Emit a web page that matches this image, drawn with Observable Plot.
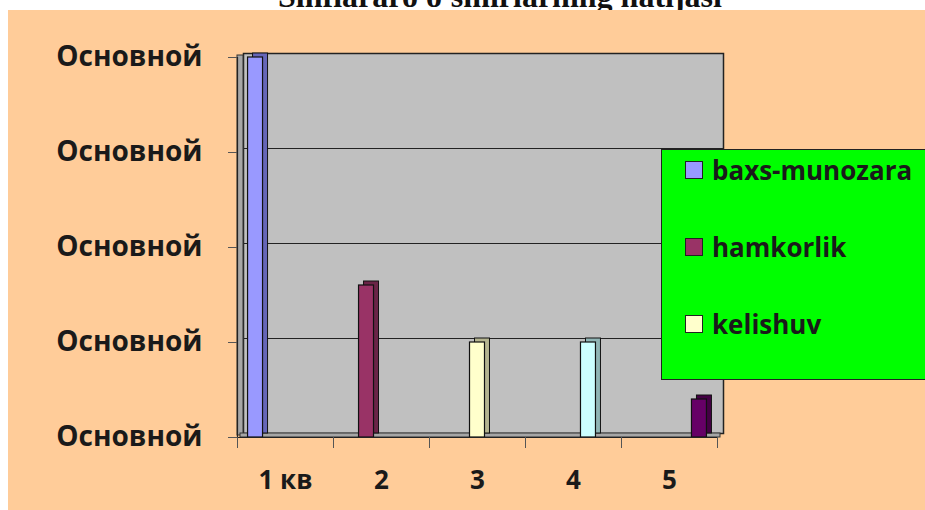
<!DOCTYPE html>
<html>
<head>
<meta charset="utf-8">
<script src="https://cdn.jsdelivr.net/npm/d3@7"></script>
<script src="https://cdn.jsdelivr.net/npm/@observablehq/plot@0.6"></script>
<style>
  html, body { margin: 0; padding: 0; background: #fff; width: 925px; height: 510px; overflow: hidden; position: relative; }
  #title { position: absolute; left: 0; top: 0; width: 925px; height: 10px; overflow: hidden; background: #fff; }
  #title span { position: absolute; left: 0; width: 1000px; text-align: center; top: -20px; font: bold 32px/32px "Liberation Serif", "Times New Roman", serif; color: #111; white-space: nowrap; }
  #chart { position: absolute; left: 8px; top: 10px; width: 917px; height: 500px; background: #FFCC99; }
  #chart svg text { font-weight: 700; }
  #legend { position: absolute; left: 661px; top: 149px; width: 300px; height: 229px; background: #00FF00; border: 1px solid #222; font: bold 26px "Open Sans", sans-serif; color: #1a1a1a; }
  .item { position: absolute; left: 23px; height: 20px; display: flex; align-items: center; white-space: nowrap; }
  .sw { width: 16px; height: 16px; border: 1.5px solid #222; margin-right: 9px; flex: none; }
</style>
</head>
<body>
<div id="title"><span>Sinflararo o'smirlarning natijasi</span></div>
<div id="chart"></div>
<div id="legend"></div>
<script>
// ---- data ----
const categories = ["1 кв", "2", "3", "4", "5"];
const series = ["baxs-munozara", "hamkorlik", "kelishuv", "Ряд 4", "Ряд 5"];
const values = [4, 1.6, 1.0, 1.0, 0.4];
const colors = ["#9999FF", "#993366", "#FFFFCC", "#CCFFFF", "#660066"];
const sideColors = ["#6666B8", "#6A2447", "#B5B590", "#90B5B5", "#440044"];
const yTicks = [0, 1, 2, 3, 4];
const yTickLabel = "Основной";
const legendShown = 3;

// ---- layout helpers ----
const groupPad = 0.11;
const barW = (1 - 2 * groupPad) / series.length;
const depthX = 6, depthY = -4;

const bars = series.map((name, s) => ({
  name, cat: s, value: values[s], fill: colors[s], side: sideColors[s],
  x1: s + groupPad + s * barW, x2: s + groupPad + (s + 1) * barW
}));
const catCenters = categories.map((c, i) => i + 0.5);
const catBounds = d3.range(categories.length + 1);

const chart = Plot.plot({
  width: 917,
  height: 500,
  marginLeft: 229,
  marginRight: 208,
  marginTop: 47,
  marginBottom: 73,
  style: { background: "transparent", fontFamily: "'Open Sans', sans-serif", fontSize: "26px", color: "#1a1a1a" },
  x: { type: "linear", domain: [0, categories.length], label: null },
  y: { domain: [0, 4], label: null },
  color: { type: "identity" },
  marks: [
    // back wall
    Plot.frame({ fill: "#C0C0C0", stroke: "#222", strokeWidth: 1.5, dx: depthX, dy: depthY }),
    // gridlines on back wall
    Plot.ruleY(yTicks.slice(1), { dx: depthX, dy: depthY, stroke: "#222", strokeWidth: 1.2 }),
    // left side wall
    Plot.rect([0], { x1: 0, x2: 0, y1: 0, y2: 4, insetRight: -depthX, dy: depthY / 2, fill: "#A6A6A6", stroke: "#333", strokeWidth: 1 }),
    // floor
    Plot.rect([0], { x1: 0, x2: categories.length, y1: 0, y2: 0, insetTop: depthY, dx: depthX / 2, fill: "#A6A6A6", stroke: "#333", strokeWidth: 1 }),
    // bars: side/top (shifted back)
    Plot.rect(bars, { x1: "x1", x2: "x2", y1: 0, y2: "value", dx: depthX - 1, dy: depthY, fill: "side", stroke: "#111", strokeWidth: 1 }),
    // bars: front face
    Plot.rect(bars, { x1: "x1", x2: "x2", y1: 0, y2: "value", fill: "fill", stroke: "#111", strokeWidth: 1.2 }),
    // front edges
    Plot.ruleY([0], { stroke: "#222", strokeWidth: 1.2 }),
    Plot.ruleX([0], { stroke: "#222", strokeWidth: 1.2 }),
    // axes
    Plot.axisY({ ticks: yTicks, tickFormat: () => yTickLabel, tickSize: 9, tickPadding: 26, stroke: "#555", fontSize: 28, label: null }),
    Plot.axisX({ ticks: catBounds, tickFormat: () => "", tickSize: 11, stroke: "#555", label: null }),
    Plot.axisX({ ticks: catCenters, tickFormat: v => categories[Math.floor(v)], tickSize: 0, tickPadding: 33, fontSize: 26, label: null })
  ]
});
document.getElementById("chart").appendChild(chart);

// legend (first entries visible, rest clipped by the box as in the reference)
const legend = document.getElementById("legend");
series.slice(0, legendShown).forEach((name, i) => {
  const item = document.createElement("div");
  item.className = "item";
  item.style.top = (10 + i * 77) + "px";
  const sw = document.createElement("span");
  sw.className = "sw";
  sw.style.background = colors[i];
  const t = document.createElement("span");
  t.textContent = name;
  item.appendChild(sw);
  item.appendChild(t);
  legend.appendChild(item);
});
</script>
</body>
</html>
